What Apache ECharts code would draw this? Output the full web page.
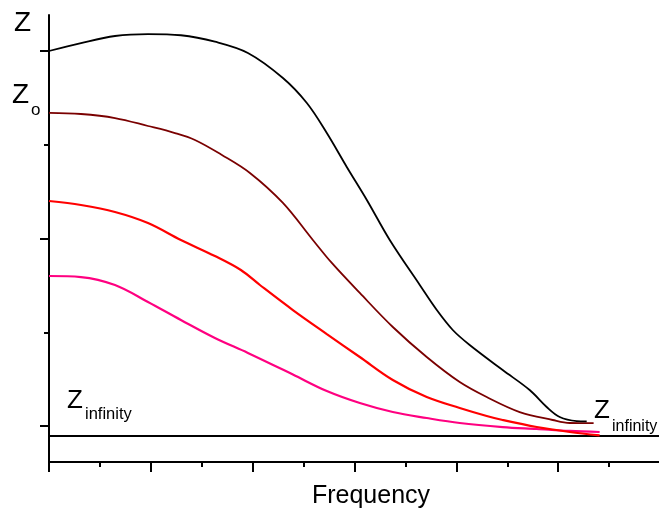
<!DOCTYPE html>
<html>
<head>
<meta charset="utf-8">
<script src="https://cdn.jsdelivr.net/npm/echarts@6/dist/echarts.min.js"></script>
<style>
html,body{margin:0;padding:0;background:#fff;}
#chart{width:659px;height:510px;}
</style>
</head>
<body>
<div id="chart"></div>
<script>
// Frequency (arbitrary units, 1 = one major tick) vs impedance (arbitrary units)
const xMajorTicks = [0, 1, 2, 3, 4, 5];
const xMinorTicks = [0.5, 1.5, 2.5, 3.5, 4.5, 5.5];
const yMajorTicks = [0, 2, 4];
const yMinorTicks = [1, 3];
const zInfinity = -0.107;

const blackCurve = [
  [0, 4.0], [0.314, 4.085], [0.648, 4.16], [0.972, 4.181], [1.295, 4.168], [1.629, 4.099],
  [1.953, 3.979], [2.297, 3.712], [2.532, 3.445], [2.728, 3.125], [2.924, 2.763], [3.121, 2.411],
  [3.346, 1.984], [3.641, 1.504], [3.808, 1.237], [3.965, 1.024], [4.131, 0.864], [4.455, 0.597],
  [4.72, 0.384], [4.887, 0.203], [5.015, 0.096], [5.182, 0.053], [5.28, 0.05]
];
const maroonCurve = [
  [0, 3.339], [0.314, 3.328], [0.648, 3.285], [0.972, 3.2], [1.237, 3.125], [1.433, 3.051],
  [1.698, 2.891], [1.973, 2.699], [2.297, 2.379], [2.591, 1.984], [2.777, 1.739], [3.052, 1.419],
  [3.376, 1.056], [3.709, 0.736], [4.033, 0.469], [4.298, 0.309], [4.622, 0.149], [4.946, 0.064],
  [5.113, 0.032], [5.348, 0.03]
];
const redCurve = [
  [0, 2.4], [0.314, 2.357], [0.648, 2.283], [0.972, 2.165], [1.295, 1.984], [1.629, 1.813],
  [1.884, 1.664], [2.071, 1.504], [2.395, 1.237], [2.728, 0.981], [3.052, 0.736], [3.376, 0.491],
  [3.709, 0.309], [4.033, 0.192], [4.298, 0.107], [4.455, 0.064], [4.789, -0.011], [5.113, -0.064],
  [5.407, -0.101]
];
const pinkCurve = [
  [0, 1.6], [0.314, 1.589], [0.648, 1.504], [0.972, 1.323], [1.295, 1.131], [1.629, 0.939],
  [1.953, 0.779], [2.395, 0.549], [2.728, 0.373], [3.052, 0.245], [3.376, 0.149], [3.709, 0.085],
  [4.033, 0.032], [4.455, -0.011], [4.789, -0.032], [5.113, -0.053], [5.407, -0.064]
];
const zInfLine = [[0, zInfinity], [5.99, zInfinity]];

const FONT = "'Liberation Sans', Arial, sans-serif";
const chart = echarts.init(document.getElementById('chart'), null, {renderer: 'canvas'});

const xBase = {
  type: 'value', min: 0, max: 5.99, position: 'bottom',
  splitLine: {show: false}, axisLabel: {show: false}
};
const yBase = {
  type: 'value', min: -0.384, max: 4.384, position: 'left',
  splitLine: {show: false}, axisLabel: {show: false}
};

function line(data, color, width, smooth) {
  return {
    type: 'line', data: data, showSymbol: false, symbol: 'none',
    smooth: smooth,
    lineStyle: {color: color, width: width}, silent: true,
    xAxisIndex: 0, yAxisIndex: 0
  };
}

chart.setOption({
  animation: false,
  backgroundColor: '#fff',
  grid: {left: 49, right: 0, top: 15, bottom: 48, containLabel: false},
  xAxis: [
    Object.assign({}, xBase, {
      axisLine: {show: true, onZero: false, lineStyle: {color: '#000', width: 2}},
      axisTick: {show: true, length: 10, customValues: xMajorTicks, lineStyle: {color: '#000', width: 2}}
    }),
    Object.assign({}, xBase, {
      axisLine: {show: false, onZero: false},
      axisTick: {show: true, length: 5, customValues: xMinorTicks, lineStyle: {color: '#000', width: 2}}
    })
  ],
  yAxis: [
    Object.assign({}, yBase, {
      axisLine: {show: true, onZero: false, lineStyle: {color: '#000', width: 2}},
      axisTick: {show: true, length: 9, customValues: yMajorTicks, lineStyle: {color: '#000', width: 2}}
    }),
    Object.assign({}, yBase, {
      axisLine: {show: false, onZero: false},
      axisTick: {show: true, length: 5, customValues: yMinorTicks, lineStyle: {color: '#000', width: 2}}
    })
  ],
  series: [
    line(zInfLine, '#000000', 2, false),
    line(pinkCurve, '#ff0080', 2.2, 0.35),
    line(redCurve, '#ff0000', 2.2, 0.35),
    line(maroonCurve, '#7a0000', 1.8, 0.35),
    line(blackCurve, '#000000', 1.8, 0.35)
  ],
  graphic: [
    {type: 'text', x: 14, y: 23, style: {text: 'Z', font: '28px ' + FONT, fill: '#000', verticalAlign: 'middle'}},
    {type: 'text', x: 12, y: 95, style: {text: 'Z', font: '28px ' + FONT, fill: '#000', verticalAlign: 'middle'}},
    {type: 'text', x: 31, y: 110, style: {text: 'o', font: '17px ' + FONT, fill: '#000', verticalAlign: 'middle'}},
    {type: 'text', x: 67, y: 401, style: {text: 'Z', font: '26px ' + FONT, fill: '#000', verticalAlign: 'middle'}},
    {type: 'text', x: 85, y: 414, style: {text: 'infinity', font: '16.5px ' + FONT, fill: '#000', verticalAlign: 'middle'}},
    {type: 'text', x: 594, y: 411, style: {text: 'Z', font: '26px ' + FONT, fill: '#000', verticalAlign: 'middle'}},
    {type: 'text', x: 612, y: 427, style: {text: 'infinity', font: '16px ' + FONT, fill: '#000', verticalAlign: 'middle'}},
    {type: 'text', x: 371, y: 496, style: {text: 'Frequency', font: '25px ' + FONT, fill: '#000', align: 'center', verticalAlign: 'middle'}}
  ]
});
</script>
</body>
</html>
